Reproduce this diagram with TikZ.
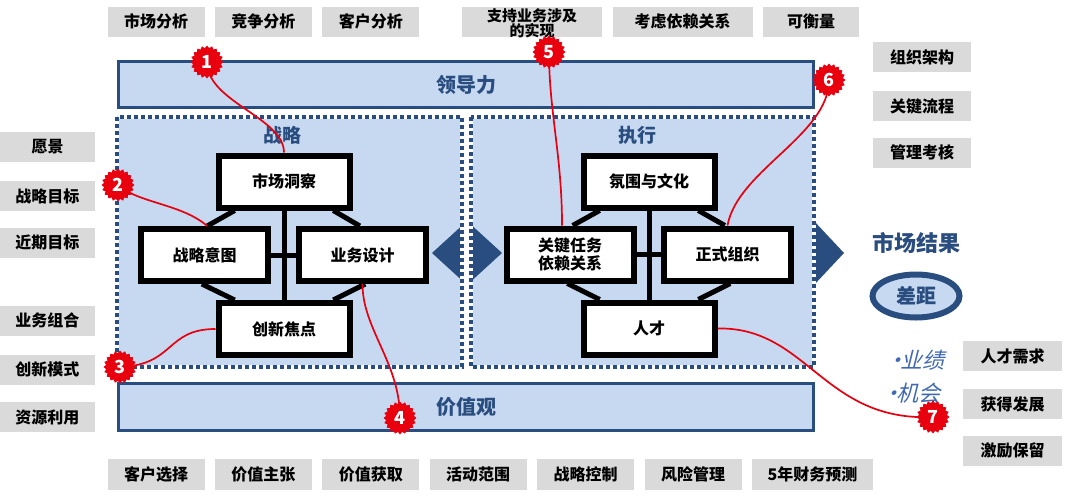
\documentclass[tikz,border=0pt]{standalone}
\usepackage{fontspec}
\setmainfont{Noto Sans CJK SC}
\newfontfamily\slantcjk[FakeSlant=0.25]{Noto Sans CJK SC}
\usepackage{tikz}
\usetikzlibrary{positioning,calc,shapes.geometric}
\usepackage{xcolor}
\definecolor{navyBlue}{HTML}{2A4D7F}
\definecolor{paleBlue}{HTML}{C6D9F1}
\definecolor{boxGray}{HTML}{DADADA}
\definecolor{pinRed}{HTML}{E8000F}
\definecolor{noteBlue}{HTML}{4169B0}

\begin{document}
\begin{tikzpicture}[x=1pt, y=-1pt, node distance=10pt,
    every node/.style={align=center, inner sep=0pt},
    graybox/.style={fill=boxGray, minimum width=97pt, minimum height=30pt, font=\fontsize{16}{18}\selectfont\bfseries},
    bar/.style={draw=navyBlue, line width=3pt, fill=paleBlue, minimum width=695pt, minimum height=46pt, text=navyBlue, font=\fontsize{20}{22}\selectfont\bfseries},
    corebox/.style={draw=black, fill=white, line width=6pt, minimum width=131pt, minimum height=52pt, font=\fontsize{16}{18}\selectfont\bfseries},
    sidebox/.style={corebox, minimum width=127pt},
    link/.style={line width=5pt, black},
    pin/.style={star, star points=20, star point ratio=1.18, fill=pinRed, minimum size=33pt, text=white, font=\fontsize{18}{18}\selectfont\bfseries},
    trace/.style={pinRed, line width=1.7pt},
    zone/.style={fill=paleBlue},
    zoneline/.style={draw=white, line width=4pt, postaction={draw=navyBlue, line width=4pt, dash pattern=on 4pt off 3pt}},
    area/.style={text=navyBlue, font=\fontsize{19}{21}\selectfont\bfseries},
    note/.style={anchor=west, text=noteBlue, font=\slantcjk\fontsize{22}{24}\selectfont}]
    \useasboundingbox (0,0) rectangle (1071,496);

    % top row
    \node[graybox] (scfx) at (156,21.5) {市场分析};
    \node[graybox, right=of scfx] (jzfx) {竞争分析};
    \node[graybox, right=of jzfx] (khfx) {客户分析};
    \node[graybox, minimum width=140pt, right=42.5pt of khfx] (zcyw) {};
    \node[font=\fontsize{15}{15}\selectfont\bfseries] (zcywt) at ($(zcyw)+(0,2)$) {支持业务涉及\\的实现};
    \node[graybox, minimum width=140pt, right=of zcyw] (kyl) {考虑依赖关系};
    \node[graybox, minimum width=96pt, right=of kyl] (khl) {可衡量};

    % left column
    \node[graybox, minimum width=95pt] (yj) at (47.5,147) {愿景};
    \node[graybox, minimum width=95pt, below=19pt of yj] (zlmb) {战略目标};
    \node[graybox, minimum width=95pt, below=16pt of zlmb] (jqmb) {近期目标};
    \node[graybox, minimum width=95pt, below=47.5pt of jqmb] (ywzh) {业务组合};
    \node[graybox, minimum width=95pt, below=18.5pt of ywzh] (cxms) {创新模式};
    \node[graybox, minimum width=95pt, below=17pt of cxms] (zyly) {资源利用};

    % right columns
    \node[graybox, minimum width=98pt] (zzjg) at (922,57) {组织架构};
    \node[graybox, minimum width=98pt, below=19pt of zzjg] (gjlc) {关键流程};
    \node[graybox, minimum width=98pt, below=16pt of gjlc] (glkh) {管理考核};
    \node[graybox, minimum width=99pt] (rcxq) at (1012.5,356) {人才需求};
    \node[graybox, minimum width=99pt, below=18pt of rcxq] (hdfz) {获得发展};
    \node[graybox, minimum width=99pt, below=16pt of hdfz] (jlbl) {激励保留};

    % bottom row
    \node[graybox, minimum height=31pt] (khxz) at (156,474) {客户选择};
    \node[graybox, minimum height=31pt, right=of khxz] (jzzz) {价值主张};
    \node[graybox, minimum height=31pt, right=of jzzz] (jzhq) {价值获取};
    \node[graybox, minimum height=31pt, right=of jzhq] (hdfw) {活动范围};
    \node[graybox, minimum height=31pt, right=of hdfw] (zlkz) {战略控制};
    \node[graybox, minimum height=31pt, right=of zlkz] (fxgl) {风险管理};
    \node[graybox, minimum height=31pt, minimum width=121pt, right=of fxgl] (cwyc) {5年财务预测};

    % bars and zones
    \node[bar] (ldl) at (466,84.5) {领导力};
    \node[bar, minimum height=47pt] (jzg) at (466,407) {价值观};
    \path[zone] (117,117) rectangle (462,367);
    \path[zone] (471,117) rectangle (814,367);
    \fill[navyBlue] (432,253) -- (467,221) -- (502,253) -- (467,285) -- cycle;
    \fill[navyBlue] (814,221) -- (844,253) -- (814,285) -- cycle;
    \draw[white, line width=5pt] (466.5,117) -- (466.5,367);
    \draw[zoneline] (117,117) rectangle (462,367);
    \draw[zoneline] (471,117) rectangle (814,367);
    \node[area] (zl) at (282,135) {战略};
    \node[area] (zx) at (637,135) {执行};

    % strategy
    \node[corebox] (mi) at (284,181.5) {市场洞察};
    \node[sidebox] (si) at (204.5,255) {战略意图};
    \node[sidebox] (bd) at (362.5,255) {业务设计};
    \node[corebox] (cj) at (284,329) {创新焦点};

    % execution
    \node[corebox] (at) at (649,181.5) {氛围与文化};
    \node[sidebox] (kt) at (570,254.5) {关键任务\\依赖关系};
    \node[sidebox] (zz) at (727.5,254.5) {正式组织};
    \node[corebox] (rc) at (649,328.5) {人才};

    \foreach \t/\l/\r/\b in {mi/si/bd/cj, at/kt/zz/rc} {
      \draw[link] (\t.south) -- (\b.north);
      \draw[link] (\l.east) -- (\r.west);
      \draw[link] ($(\t.south west)!0.14!(\t.south east)$) -- ($(\l.north west)!0.52!(\l.north east)$);
      \draw[link] ($(\t.south west)!0.86!(\t.south east)$) -- ($(\r.north west)!0.48!(\r.north east)$);
      \draw[link] ($(\l.south west)!0.48!(\l.south east)$) -- ($(\b.north west)!0.14!(\b.north east)$);
      \draw[link] ($(\r.south west)!0.52!(\r.south east)$) -- ($(\b.north west)!0.86!(\b.north east)$);
    }

    % market result
    \node[text=navyBlue, font=\fontsize{22}{24}\selectfont\bfseries] (scjg) at (916,243) {市场结果};
    \node[ellipse, draw=navyBlue, line width=6pt, fill=paleBlue, minimum width=87pt, minimum height=43pt, text=navyBlue, font=\fontsize{20}{22}\selectfont\bfseries] (cjv) at (916,296) {差距};
    \node[note] (yjn) at (885,360) {•\kern-7pt 业绩};
    \node[note] (jhn) at (881,393) {•\kern-7pt 机会};

    % red pins
    \coordinate (p1) at (207,62);
    \coordinate (p2) at (118,185);
    \coordinate (p3) at (120,367);
    \coordinate (p4) at (400,418);
    \coordinate (p5) at (549,52);
    \coordinate (p6) at (829,80);
    \coordinate (p7) at (933,417);
    \draw[trace] (p1) .. controls +(0,40) and +(0,-35) .. (mi.north);
    \draw[trace] (p2) .. controls +(20,18) and +(-25,-22) .. ($(si.north west)!0.52!(si.north east)$);
    \draw[trace] (p3) .. controls +(55,-2) and +(-50,0) .. (cj.west);
    \draw[trace] (bd.south) .. controls +(0,45) and +(0,-55) .. (p4);
    \draw[trace] (p5) .. controls +(0,60) and +(0,-70) .. ($(kt.north west)!0.44!(kt.north east)$);
    \draw[trace] (p6) .. controls +(0,55) and +(10,-55) .. (zz.north);
    \draw[trace] (rc.east) .. controls +(90,-2) and +(-110,5) .. (p7);
    \foreach \n in {1,...,7}
      \node[pin] (b\n) at (p\n) {\n};
\end{tikzpicture}
\end{document}
